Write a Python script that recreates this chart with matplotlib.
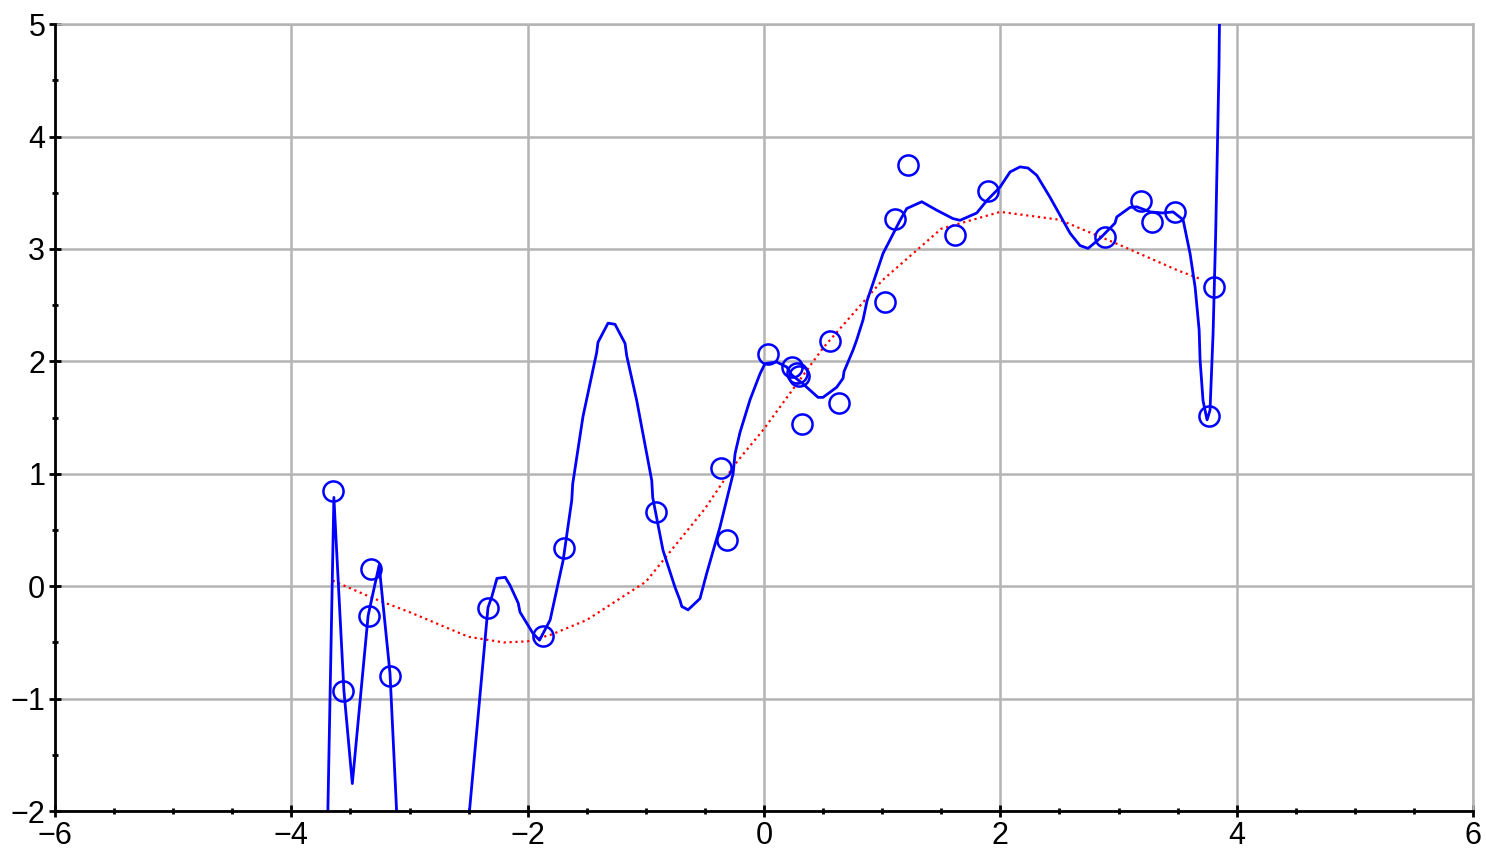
import numpy as np
import matplotlib.pyplot as plt
from matplotlib.ticker import MultipleLocator

plt.rcParams['font.family'] = ['Liberation Sans', 'DejaVu Sans']

# Observations
obs_x = [-3.647, -3.563, -3.326, -3.343, -3.165, -2.336, -1.870, -1.692, -0.914,
         -0.364, -0.313, 0.034, 0.237, 0.280, 0.300, 0.322, 0.559, 0.635, 1.024,
         1.109, 1.219, 1.616, 1.896, 2.886, 3.190, 3.283, 3.478, 3.766, 3.808]
obs_y = [0.845, -0.934, 0.151, -0.267, -0.800, -0.196, -0.445, 0.338, 0.658,
         1.050, 0.409, 2.064, 1.948, 1.900, 1.870, 1.441, 2.179, 1.628, 2.526,
         3.264, 3.745, 3.122, 3.513, 3.104, 3.424, 3.238, 3.326, 1.512, 2.659]

# Overfitted curve (NaN marks the break where it leaves the plot)
fit_x = [-3.70, -3.64, -3.555, -3.484, -3.35, -3.257, -3.165, -3.10, np.nan,
         -2.51, -2.336, -2.304, -2.26, -2.19, -2.15, -2.08, -2.065, -1.955, -1.90,
         -1.81, -1.70, -1.627, -1.619, -1.532, -1.416, -1.405, -1.32, -1.261,
         -1.176, -1.162, -1.077, -0.950, -0.942, -0.855, -0.753, -0.711, -0.696,
         -0.643, -0.542, -0.485, -0.372, -0.262, -0.245, -0.203, -0.118, -0.034,
         0.008, 0.107, 0.192, 0.234, 0.330, 0.457, 0.499, 0.615, 0.669, 0.677,
         0.753, 0.784, 0.838, 0.872, 0.911, 1.007, 1.066, 1.151, 1.208, 1.335,
         1.461, 1.599, 1.659, 1.800, 1.885, 1.997, 2.082, 2.166, 2.234, 2.308,
         2.420, 2.505, 2.590, 2.674, 2.742, 2.844, 2.970, 2.985, 3.097, 3.154,
         3.267, 3.376, 3.461, 3.546, 3.605, 3.648, 3.682, 3.690, 3.715, 3.749,
         3.774, 3.800, 3.822, 3.839, 3.850, 3.856]
fit_y = [-2.5, 0.79, -0.93, -1.755, -0.26, 0.187, -0.775, -2.2, np.nan,
         -2.2, -0.19, -0.095, 0.07, 0.08, 0.01, -0.15, -0.23, -0.42, -0.48,
         -0.30, 0.23, 0.765, 0.91, 1.51, 2.08, 2.17, 2.34, 2.33,
         2.16, 2.05, 1.65, 0.94, 0.79, 0.32, -0.01, -0.125, -0.18,
         -0.21, -0.11, 0.115, 0.53, 1.0, 1.18, 1.37, 1.66, 1.89,
         1.98, 1.995, 1.95, 1.88, 1.80, 1.68, 1.68, 1.77, 1.85, 1.91,
         2.10, 2.19, 2.37, 2.54, 2.66, 2.96, 3.08, 3.255, 3.36, 3.42,
         3.345, 3.27, 3.255, 3.32, 3.43, 3.55, 3.685, 3.73, 3.72, 3.655,
         3.46, 3.30, 3.14, 3.03, 3.005, 3.095, 3.23, 3.285, 3.37, 3.375,
         3.33, 3.32, 3.33, 3.26, 2.96, 2.66, 2.28, 2.01, 1.65, 1.48,
         1.565, 2.25, 3.14, 4.03, 4.63, 5.2]

# Smooth low-order fit
trend_x = [-3.65, -3.3, -3.0, -2.5, -2.2, -2.0, -1.8, -1.5, -1.0, -0.5, -0.25,
           0.0, 0.5, 1.0, 1.5, 2.0, 2.5, 3.0, 3.5, 3.7]
trend_y = [0.05, -0.11, -0.23, -0.45, -0.50, -0.49, -0.43, -0.30, 0.04, 0.69, 1.08,
           1.40, 2.12, 2.72, 3.18, 3.33, 3.26, 3.04, 2.81, 2.73]

fig = plt.figure(figsize=(14.86, 8.52), dpi=100)
ax = fig.add_axes([0.037, 0.048, 0.9543, 0.9237])

ax.plot(trend_x, trend_y, color='red', linestyle=':', linewidth=1.6, zorder=3)
ax.plot(fit_x, fit_y, color='blue', linewidth=2, zorder=4)
ax.plot(obs_x, obs_y, linestyle='none', marker='o', markersize=14.5,
        markerfacecolor='none', markeredgecolor='blue', markeredgewidth=1.8, zorder=5)

ax.set_xlim(-6, 6)
ax.set_ylim(-2, 5)
ax.xaxis.set_major_locator(MultipleLocator(2))
ax.xaxis.set_minor_locator(MultipleLocator(0.5))
ax.yaxis.set_major_locator(MultipleLocator(1))
ax.yaxis.set_minor_locator(MultipleLocator(0.5))

ax.grid(True, which='major', color='#b4b4b4', linewidth=1.8)
ax.set_axisbelow(True)

for side in ['left', 'bottom']:
    ax.spines[side].set_linewidth(2)
    ax.spines[side].set_color('black')
    ax.spines[side].set_zorder(6)
for side in ['top', 'right']:
    ax.spines[side].set_linewidth(1.8)
    ax.spines[side].set_color('#b4b4b4')

ax.tick_params(which='major', direction='inout', length=8, width=2, labelsize=22, pad=3)
ax.tick_params(which='minor', direction='inout', length=4, width=2)

plt.savefig('out.png', dpi=100)
